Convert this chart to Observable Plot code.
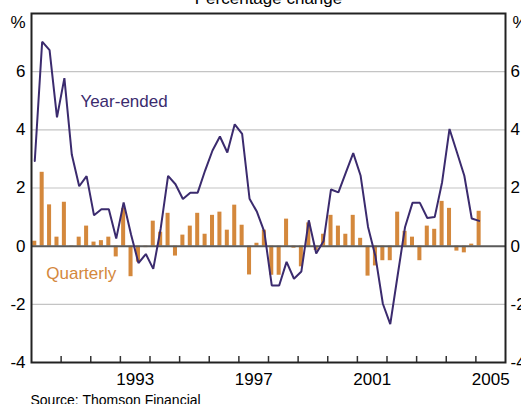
<!DOCTYPE html>
<html><head><meta charset="utf-8">
<script src="https://cdn.jsdelivr.net/npm/d3@7"></script>
<script src="https://cdn.jsdelivr.net/npm/@observablehq/plot@0.6"></script>
<style>html,body{margin:0;padding:0;overflow:hidden;background:#fff}</style>
</head><body><div id="chart"></div>
<script>
// Quarterly data, March quarter 1990 to March quarter 2005
const startYear = 1990;
const quarterly = [
  0.17, 2.54, 1.42, 0.31, 1.51, -0.03, 0.31, 0.69, 0.14, 0.19, 0.31, -0.37,
  1.3, -1.05, -0.55, -0.05, 0.86, 0.48, 1.13, -0.34, 0.38, 0.69, 1.13, 0.41,
  1.06, 1.17, 0.55, 1.41, 0.72, -0.99, 0.1, 0.55, -1.0, -1.0, 0.93, -0.07,
  -0.71, 0.8, -0.15, 0.41, 1.06, 0.69, 0.41, 1.06, 0.27, -1.03, -0.68, -0.5,
  -0.5, 1.17, 0.51, 0.31, -0.5, 0.69, 0.58, 1.54, 1.3, -0.17, -0.23, 0.07, 1.2
];
const yearEnded = [
  2.93, 7.03, 6.74, 4.43, 5.78, 3.15, 2.06, 2.41, 1.06, 1.27, 1.27, 0.26,
  1.5, 0.4, -0.58, -0.27, -0.78, 0.6, 2.42, 2.13, 1.62, 1.84, 1.84, 2.6,
  3.29, 3.77, 3.22, 4.19, 3.86, 1.63, 1.18, 0.49, -1.35, -1.35, -0.54, -1.12,
  -0.87, 0.89, -0.25, 0.18, 1.95, 1.85, 2.53, 3.2, 2.42, 0.66, -0.35, -1.98,
  -2.68, -1.0, 0.66, 1.49, 1.49, 0.97, 1.0, 2.2, 4.03, 3.23, 2.42, 0.95, 0.87
];
const yTicks = [-4, -2, 0, 2, 4, 6];
const gridValues = [-2, 2, 4, 6];
const yearLabels = [1993, 1997, 2001, 2005];
const yearTicks = d3.range(1991, 2006);
const seriesLabels = [
  {text: "Year-ended", x: 1991.65, y: 4.79, color: "#3b2b6e"},
  {text: "Quarterly", x: 1990.5, y: -1.14, color: "#d4883c"}
];

const orange = "#d4883c";
const purple = "#3b2b6e";
const font = "Liberation Sans, Arial, Helvetica, sans-serif";

const data = quarterly.map((q, i) => ({t: startYear + i / 4 + 0.11, q, ye: yearEnded[i]}));

const chart = Plot.plot({
  width: 521,
  height: 404,
  marginLeft: 31,
  marginRight: 16,
  marginTop: 13,
  marginBottom: 42,
  style: {fontFamily: font, fontSize: "17px", background: "#fff", color: "#000", overflow: "visible"},
  x: {domain: [1990, 2006], axis: null},
  y: {domain: [-4, 8], axis: null},
  marks: [
    Plot.ruleY(gridValues, {stroke: "#c4c4c4", strokeWidth: 1.2}),
    Plot.rectY(data, {x1: d => d.t - 0.068, x2: d => d.t + 0.068, y1: 0, y2: "q", fill: orange}),
    Plot.ruleY([0], {stroke: "#5a5a5a", strokeWidth: 2}),
    Plot.line(data, {x: "t", y: "ye", stroke: purple, strokeWidth: 2, strokeLinejoin: "miter"}),
    Plot.tickX(yearTicks, {x: d => d, stroke: "#333", strokeWidth: 1.5, insetTop: 343}),
    Plot.frame({stroke: "#222", strokeWidth: 2}),
    Plot.axisY(yTicks, {anchor: "left", tickSize: 0, tickPadding: 6, fontSize: 17, tickFormat: d => String(d)}),
    Plot.axisY(yTicks, {anchor: "right", tickSize: 0, tickPadding: 5, fontSize: 17, tickFormat: d => String(d)}),
    Plot.text(yearLabels, {x: d => d + 0.5, frameAnchor: "bottom", dy: 22, lineAnchor: "bottom", text: d => String(d), fontSize: 17, fill: "#000"}),
    Plot.text(["%"], {frameAnchor: "top-left", dx: -6, dy: 14, textAnchor: "end", lineAnchor: "bottom", fontSize: 17, fill: "#000"}),
    Plot.text(["%"], {frameAnchor: "top-right", dx: 7, dy: 14, textAnchor: "start", lineAnchor: "bottom", fontSize: 17, fill: "#000"}),
    Plot.text(["Percentage change"], {frameAnchor: "top", dy: -9.7, lineAnchor: "bottom", fontSize: 17, fill: "#000"}),
    Plot.text(seriesLabels, {x: "x", y: "y", text: "text", fill: "color", textAnchor: "start", lineAnchor: "bottom", fontSize: 17}),
    Plot.text(["Source: Thomson Financial"], {frameAnchor: "bottom-left", dx: -1, dy: 42, textAnchor: "start", lineAnchor: "bottom", fontSize: 14, fill: "#000"})
  ]
});
document.getElementById("chart").appendChild(chart);
</script>
</body></html>
